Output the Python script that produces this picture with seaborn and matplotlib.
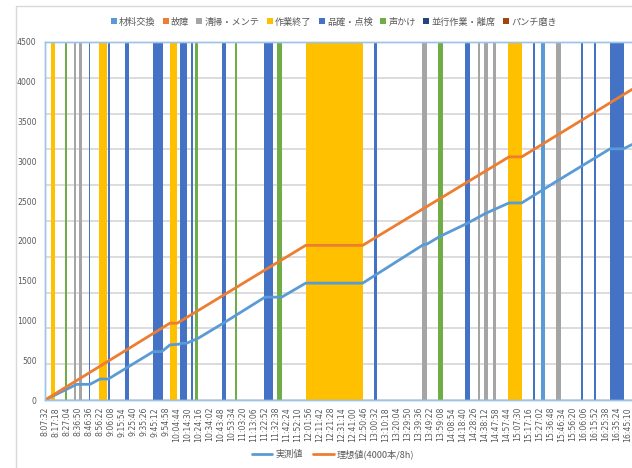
import numpy as np
import pandas as pd
import matplotlib
matplotlib.use("Agg")
import matplotlib.pyplot as plt
from matplotlib.lines import Line2D
import seaborn as sns

# ---------------------------------------------------------------- data
tick_labels = [
    "8:07:32", "8:17:18", "8:27:04", "8:36:50", "8:46:36", "8:56:22", "9:06:08",
    "9:15:54", "9:25:40", "9:35:26", "9:45:12", "9:54:58", "10:04:44", "10:14:30",
    "10:24:16", "10:34:02", "10:43:48", "10:53:34", "11:03:20", "11:13:06", "11:22:52",
    "11:32:38", "11:42:24", "11:52:10", "12:01:56", "12:11:42", "12:21:28", "12:31:14",
    "12:41:00", "12:50:46", "13:00:32", "13:10:18", "13:20:04", "13:29:50", "13:39:36",
    "13:49:22", "13:59:08", "14:08:54", "14:18:40", "14:28:26", "14:38:12", "14:47:58",
    "14:57:44", "15:07:30", "15:17:16", "15:27:02", "15:36:48", "15:46:34", "15:56:20",
    "16:06:06", "16:15:52", "16:25:38", "16:35:24", "16:45:10",
]
y_ticks = [0, 500, 1000, 1500, 2000, 2500, 3000, 3500, 4000, 4500]

# event periods (start, end)
material_change = [("15:27:56", "15:31:43")]
breakdown = []
cleaning = [("8:33:17", "8:35:19"), ("8:37:27", "8:40:23"), ("13:42:30", "13:46:57"),
            ("14:31:43", "14:34:02"), ("14:37:35", "14:41:08"), ("14:45:19", "14:47:42"),
            ("15:41:32", "15:45:58")]
work_end = [("8:12:52", "8:16:25"), ("8:55:29", "9:02:51"), ("9:58:31", "10:05:00"),
            ("11:59:00", "12:49:37"), ("14:58:38", "15:11:04")]
inspection = [("8:46:20", "8:47:29"), ("9:03:12", "9:05:15"), ("9:18:34", "9:22:07"),
              ("9:43:10", "9:52:34"), ("10:07:24", "10:13:53"), ("10:17:26", "10:19:13"),
              ("10:44:26", "10:47:59"), ("11:22:14", "11:30:14"), ("12:59:55", "13:02:35"),
              ("14:20:11", "14:25:09"), ("15:20:32", "15:22:37"), ("16:03:26", "16:05:30"),
              ("16:15:00", "16:17:03"), ("16:29:14", "16:41:56")]
callout = [("8:25:33", "8:27:20"), ("10:20:59", "10:23:23"), ("10:56:14", "10:57:45"),
           ("11:33:15", "11:38:14"), ("13:56:13", "14:00:39")]
parallel_work = []
punch_polish = []

# measured output (実測値)
actual_times = ["8:07:32", "8:35:41", "8:47:29", "8:56:22", "9:03:44", "9:43:41", "9:51:09",
                "9:58:31", "10:05:53", "10:09:11", "10:13:21", "10:23:39", "10:45:51",
                "11:22:52", "11:37:42", "11:59:00", "12:49:37", "13:43:26", "13:46:43",
                "13:58:15", "14:21:58", "14:38:13", "14:59:30", "15:10:47", "15:41:52",
                "16:29:12", "16:41:00", "16:48:44"]
actual_values = [0, 197, 197, 264, 264, 608, 608, 693, 700, 714, 714, 777, 966,
                 1293, 1293, 1469, 1469, 1952, 1960, 2057, 2217, 2342, 2477, 2477, 2750,
                 3157, 3157, 3211]

# target output (理想値 4000本/8h)
ideal_times = ["8:07:32", "9:58:31", "10:05:00", "11:59:00", "12:49:37", "14:59:30",
               "15:10:47", "16:48:44"]
ideal_values = [0, 966, 966, 1944, 1944, 3056, 3056, 3904]

categories = ["材料交換", "故障", "清掃・メンテ", "作業終了", "品確・点検", "声かけ",
              "並行作業・離席", "パンチ磨き"]
cat_colors = ["#5B9BD5", "#ED7D31", "#A5A5A5", "#FFC000", "#4472C4", "#70AD47",
              "#264478", "#9E480E"]
cat_events = [material_change, breakdown, cleaning, work_end, inspection, callout,
              parallel_work, punch_polish]


def to_min(s):
    h, m, sec = (int(p) for p in s.split(":"))
    return h * 60 + m + sec / 60.0


# ---------------------------------------------------------------- style
sns.set_theme(style="white")
plt.rcParams["font.family"] = ["Noto Sans CJK JP", "DejaVu Sans"]
TEXT = "#595959"

W, H = 632, 468
fig = plt.figure(figsize=(W / 100, H / 100), dpi=100)
ax_bg = fig.add_axes([45 / W, 1 - 400 / H, (W - 45) / W, (400 - 42) / H])
ax = ax_bg.twinx()

x_start = to_min(tick_labels[0])
x_end = to_min(actual_times[-1])

# event bars on a 0-1 scale, gridlines at tenths
for name, color, spans in zip(categories, cat_colors, cat_events):
    for s, e in spans:
        ax_bg.bar(to_min(s), 1.0, width=to_min(e) - to_min(s), align="edge",
                  color=color, linewidth=0, zorder=2)
ax_bg.set_ylim(0, 1)
ax_bg.set_yticks(np.arange(0, 1.0001, 0.1))
ax_bg.set_yticklabels([])
ax_bg.tick_params(axis="y", length=0, left=False, right=False)
ax_bg.grid(axis="y", color="#D9D9D9", linewidth=1.3, zorder=0)
ax_bg.grid(axis="x", visible=False)
ax_bg.set_axisbelow(True)

# production lines
df = pd.concat([
    pd.DataFrame({"t": [to_min(t) for t in actual_times], "v": actual_values,
                  "series": "実測値"}),
    pd.DataFrame({"t": [to_min(t) for t in ideal_times], "v": ideal_values,
                  "series": "理想値(4000本/8h)"}),
])
sns.lineplot(data=df, x="t", y="v", hue="series", sort=False, estimator=None,
             palette={"実測値": "#5B9BD5", "理想値(4000本/8h)": "#ED7D31"},
             linewidth=2.0, legend=False, ax=ax)

ax.set_ylim(0, 4500)
ax.set_xlim(x_start, x_end)
ax_bg.set_xlim(x_start, x_end)
ax.yaxis.tick_left()
ax.set_yticks(y_ticks)
ax.set_yticklabels([str(v) for v in y_ticks])
ax.tick_params(axis="y", length=0, pad=6, labelsize=5.6, labelcolor=TEXT,
               left=False, right=False)
ax.set_xlabel("")
ax.set_ylabel("")
ax_bg.set_xticks([to_min(t) for t in tick_labels])
ax_bg.set_xticklabels(tick_labels, rotation=90)
ax_bg.tick_params(axis="x", length=0, pad=5, labelsize=5.6, labelcolor=TEXT)
for lab in ax_bg.get_xticklabels() + ax.get_yticklabels():
    lab.set_family("DejaVu Sans")

for a in (ax_bg, ax):
    for side in ("left", "top", "bottom"):
        a.spines[side].set_color("#9DC3E6")
        a.spines[side].set_linewidth(1.0)
    a.spines["right"].set_visible(False)

# legends
cat_handles = [Line2D([], [], marker="s", linestyle="none", markersize=4.2,
                      markerfacecolor=c, markeredgewidth=0) for c in cat_colors]
fig.legend(cat_handles, categories, loc="center", bbox_to_anchor=(333 / W, 1 - 22 / H),
           ncol=8, frameon=False, fontsize=6.6, handletextpad=0.1,
           columnspacing=0.7, labelcolor=TEXT, handlelength=0.9)

line_handles = [Line2D([], [], color="#5B9BD5", linewidth=2.0),
                Line2D([], [], color="#ED7D31", linewidth=2.0)]
fig.legend(line_handles, ["実測値", "理想値(4000本/8h)"], loc="center",
           bbox_to_anchor=(333 / W, 1 - 454 / H), ncol=2, frameon=False,
           fontsize=6.6, handlelength=2.2, handletextpad=0.3, columnspacing=1.2,
           labelcolor=TEXT)

# chart frame
fig.add_artist(Line2D([15.5 / W, 1], [1 - 6 / H, 1 - 6 / H], color="#D9D9D9",
                      linewidth=1.0, transform=fig.transFigure))
fig.add_artist(Line2D([15.5 / W, 15.5 / W], [0, 1 - 6 / H], color="#D9D9D9",
                      linewidth=1.0, transform=fig.transFigure))

fig.savefig("out.png", dpi=100, facecolor="white")
